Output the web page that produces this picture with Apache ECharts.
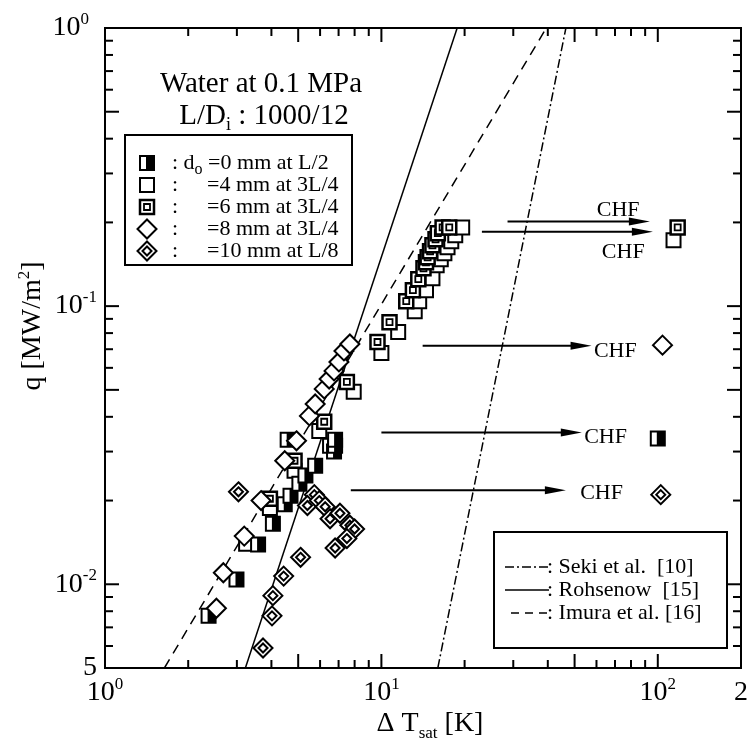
<!DOCTYPE html>
<html>
<head>
<meta charset="utf-8">
<script src="https://cdn.jsdelivr.net/npm/echarts@6/dist/echarts.min.js"></script>
<style>
  html, body { margin: 0; padding: 0; background: #fff; }
  #chart { width: 751px; height: 751px; }
</style>
</head>
<body>
<div id="chart"></div>
<script>
var FONT = "Liberation Serif";

// axis ranges and tick values
var xMin = 1, xMax = 200;
var yMin = 0.005, yMax = 1;
var xTicks = [2, 3, 4, 5, 6, 7, 8, 9, 10, 20, 30, 40, 50, 60, 70, 80, 90, 100];
var xMajorTicks = [5, 10, 50, 100];
var yTicks = [0.006, 0.007, 0.008, 0.009, 0.01, 0.02, 0.03, 0.04, 0.05, 0.06, 0.07, 0.08, 0.09,
              0.1, 0.2, 0.3, 0.4, 0.5, 0.6, 0.7, 0.8, 0.9];
var yMajorTicks = [0.01, 0.05, 0.1, 0.5];

// measured points [dT_sat K, q MW/m2]
var do0 = [[2.37, 0.0077], [2.99, 0.0104], [3.58, 0.0139], [4.05, 0.0165], [4.47, 0.0194],
           [4.69, 0.0208], [4.58, 0.0331], [5.05, 0.0230], [5.31, 0.0246], [5.76, 0.0267],
           [6.74, 0.030], [6.80, 0.0315], [6.80, 0.0331], [100, 0.0334]];
var do4 = [[3.24, 0.0140], [3.95, 0.0188], [4.85, 0.0256], [5.96, 0.0356], [6.52, 0.0315],
           [7.94, 0.0492], [10.0, 0.0678], [11.5, 0.0807], [13.2, 0.0959], [13.7, 0.1042],
           [14.5, 0.1141], [15.3, 0.126], [15.85, 0.1403], [16.4, 0.1474], [16.9, 0.1549],
           [17.35, 0.1627], [17.9, 0.171], [18.5, 0.1797], [19.6, 0.1919], [114, 0.1724]];
var do6 = [[3.95, 0.0203], [4.85, 0.0278], [6.21, 0.0384], [7.50, 0.0534], [9.68, 0.0743],
           [10.7, 0.0876], [12.3, 0.1042], [13.0, 0.1141], [13.6, 0.125], [14.2, 0.1368],
           [14.5, 0.1438], [14.7, 0.1498], [15.0, 0.1575], [15.3, 0.1654], [15.7, 0.1738],
           [16.0, 0.183], [16.65, 0.1919], [17.6, 0.1919], [118, 0.1919]];
var do8 = [[2.53, 0.0082], [2.68, 0.0110], [3.19, 0.0149], [3.67, 0.0200], [4.47, 0.0278],
           [4.93, 0.0328], [5.49, 0.0403], [5.76, 0.0445], [6.21, 0.0504], [6.47, 0.0547],
           [6.74, 0.0585], [7.02, 0.063], [7.32, 0.069], [7.69, 0.0731], [104, 0.0724]];
var do10 = [[3.04, 0.0215], [3.73, 0.0059], [4.02, 0.0077], [4.05, 0.0091], [4.43, 0.0107],
            [5.10, 0.0125], [5.72, 0.0210], [5.40, 0.0192], [5.96, 0.0200], [6.26, 0.0190],
            [6.52, 0.0172], [7.08, 0.0180], [7.69, 0.0163], [8.0, 0.0158], [7.50, 0.0146],
            [6.80, 0.0135], [102.5, 0.0210]];

// correlations (end points on the frame)
var sekiLine = [[16.0, 0.005], [46.5, 1]];
var rohsenowLine = [[3.22, 0.005], [18.8, 1]];
var imuraLine = [[1.64, 0.005], [39.5, 1]];

// CHF arrows [x start, x tip, q] and CHF label spots
var chfArrows = [[28.6, 93.6, 0.2017], [23.1, 96.0, 0.1852], [14.1, 57.6, 0.0721],
                 [10.0, 53.1, 0.0351], [7.75, 46.5, 0.0218]];
var chfLabels = [[71.9, 0.2208], [75.0, 0.1561], [70.2, 0.069], [64.7, 0.0339], [62.6, 0.0212]];

function markerShapes(kind, x, y) {
  var s = 7, d = 9.5;
  function st() { return { fill: "#fff", stroke: "#000", lineWidth: 2 }; }
  function sq(h, lw) {
    return { type: "rect", shape: { x: x - h, y: y - h, width: 2 * h, height: 2 * h },
             style: { fill: "#fff", stroke: "#000", lineWidth: lw } };
  }
  function dia(h) {
    return { type: "polygon", shape: { points: [[x, y - h], [x + h, y], [x, y + h], [x - h, y]] }, style: st() };
  }
  if (kind === "half") {
    return [sq(s, 2), { type: "rect", shape: { x: x - 1, y: y - s, width: s + 1, height: 2 * s }, style: { fill: "#000" } }];
  }
  if (kind === "open") return [sq(s, 2)];
  if (kind === "inner") return [sq(s, 2.5), sq(3, 1.8)];
  if (kind === "diamond") return [dia(d)];
  return [dia(d), dia(4.5)];
}

function markerSeries(name, kind, data) {
  return {
    name: name,
    type: "custom",
    z: 5,
    data: data,
    renderItem: function (params, api) {
      var p = api.coord([api.value(0), api.value(1)]);
      return { type: "group", children: markerShapes(kind, p[0], p[1]) };
    }
  };
}

function corrSeries(name, data, dash) {
  return {
    name: name, type: "line", data: data, symbol: "none", z: 3,
    lineStyle: { color: "#000", width: 1.5, type: dash }
  };
}

function fmtLabel(v, isY) {
  var lg = Math.log10(v);
  var e = Math.round(lg);
  if (Math.abs(lg - e) < 1e-6) {
    if (isY && e === 0) return "10{supPad|0}";
    return "10{sup|" + e + "}";
  }
  return String(Math.round(v / Math.pow(10, Math.floor(lg))));
}

var supStyle = { fontSize: 17, fontFamily: FONT, lineHeight: 16, verticalAlign: "top", color: "#000" };
var supPadStyle = { fontSize: 17, fontFamily: FONT, lineHeight: 16, verticalAlign: "top", color: "#000", padding: [0, 8, 0, 0] };

var chart = echarts.init(document.getElementById("chart"));

var option = {
  animation: false,
  backgroundColor: "#fff",
  grid: { left: 105, right: 3, top: 28, bottom: 83, show: true, borderColor: "#000", borderWidth: 2 },
  xAxis: {
    type: "log", logBase: 10, min: xMin, max: xMax,
    axisLine: { show: false }, axisTick: { show: false }, splitLine: { show: false },
    axisLabel: {
      margin: 8, color: "#000", fontFamily: FONT, fontSize: 28, lineHeight: 34,
      showMinLabel: true, showMaxLabel: true,
      formatter: function (v) { return fmtLabel(v, false); },
      rich: { sup: supStyle }
    }
  },
  yAxis: {
    type: "log", logBase: 10, min: yMin, max: yMax,
    axisLine: { show: false }, axisTick: { show: false }, splitLine: { show: false },
    axisLabel: {
      margin: 8, color: "#000", fontFamily: FONT, fontSize: 28, lineHeight: 34,
      showMinLabel: true, showMaxLabel: true,
      formatter: function (v) { return fmtLabel(v, true); },
      rich: { sup: supStyle, supPad: supPadStyle }
    }
  },
  series: [
    corrSeries("Seki et al. [10]", sekiLine, [9, 3, 2, 3]),
    corrSeries("Rohsenow [15]", rohsenowLine, "solid"),
    corrSeries("Imura et al. [16]", imuraLine, [10, 7]),
    {
      name: "x ticks", type: "custom", z: 4,
      data: xTicks.map(function (v) { return [v, yMin]; }),
      renderItem: function (params, api) {
        var v = xTicks[params.dataIndex];
        var len = xMajorTicks.indexOf(v) >= 0 ? 14 : 8;
        var b = api.coord([v, yMin]), t = api.coord([v, yMax]);
        return { type: "group", children: [
          { type: "line", shape: { x1: b[0], y1: b[1], x2: b[0], y2: b[1] - len }, style: { stroke: "#000", lineWidth: 2 } },
          { type: "line", shape: { x1: t[0], y1: t[1], x2: t[0], y2: t[1] + len }, style: { stroke: "#000", lineWidth: 2 } }
        ] };
      }
    },
    {
      name: "y ticks", type: "custom", z: 4,
      data: yTicks.map(function (v) { return [xMin, v]; }),
      renderItem: function (params, api) {
        var v = yTicks[params.dataIndex];
        var len = yMajorTicks.indexOf(v) >= 0 ? 14 : 8;
        var l = api.coord([xMin, v]), r = api.coord([xMax, v]);
        return { type: "group", children: [
          { type: "line", shape: { x1: l[0], y1: l[1], x2: l[0] + len, y2: l[1] }, style: { stroke: "#000", lineWidth: 2 } },
          { type: "line", shape: { x1: r[0], y1: r[1], x2: r[0] - len, y2: r[1] }, style: { stroke: "#000", lineWidth: 2 } }
        ] };
      }
    },
    {
      name: "CHF arrows", type: "custom", z: 4,
      encode: { x: [0, 1], y: 2 },
      data: chfArrows,
      renderItem: function (params, api) {
        var a = api.coord([api.value(0), api.value(2)]);
        var b = api.coord([api.value(1), api.value(2)]);
        return { type: "group", children: [
          { type: "line", shape: { x1: a[0], y1: a[1], x2: b[0] - 12, y2: b[1] }, style: { stroke: "#000", lineWidth: 2 } },
          { type: "polygon", shape: { points: [[b[0], b[1]], [b[0] - 21, b[1] - 4], [b[0] - 21, b[1] + 4]] }, style: { fill: "#000" } }
        ] };
      }
    },
    {
      name: "CHF labels", type: "custom", z: 4,
      data: chfLabels,
      renderItem: function (params, api) {
        var p = api.coord([api.value(0), api.value(1)]);
        return { type: "text", x: p[0], y: p[1], style: {
          text: "CHF", fontSize: 22, fontFamily: FONT, fill: "#000",
          align: "center", verticalAlign: "middle", textAlign: "center", textVerticalAlign: "middle" } };
      }
    },
    markerSeries("4 mm", "open", do4),
    markerSeries("6 mm", "inner", do6),
    markerSeries("0 mm", "half", do0),
    markerSeries("8 mm", "diamond", do8),
    markerSeries("10 mm", "double", do10)
  ]
};

// annotation boxes and axis names
function txt(x, y, text, size, align, rich, rot) {
  return {
    type: "text", x: x, y: y, rotation: rot || 0, z: 10,
    style: { text: text, fontSize: size, fontFamily: FONT, fill: "#000",
             align: align, textAlign: align, verticalAlign: "middle", textVerticalAlign: "middle",
             rich: rich || {} }
  };
}
var subRich = { sub: { fontSize: 16, fontFamily: FONT, lineHeight: 30, verticalAlign: "bottom" } };

var legendRows = [
  ["half", ": d{sub|o} =0 mm at L/2"],
  ["open", "=4 mm at 3L/4"],
  ["inner", "=6 mm at 3L/4"],
  ["diamond", "=8 mm at 3L/4"],
  ["double", "=10 mm at L/8"]
];
var graphics = [
  { type: "rect", z: 9, shape: { x: 125, y: 135, width: 227, height: 130 }, style: { fill: "#fff", stroke: "#000", lineWidth: 2 } },
  txt(261, 84, "Water at 0.1 MPa", 29, "center"),
  txt(264, 116, "L/D{sub|i} : 1000/12", 29, "center", { sub: { fontSize: 18, fontFamily: FONT, lineHeight: 36, verticalAlign: "bottom" } }),
  txt(33, 326, "q [MW/m{sup|2}]", 28, "center", { sup: { fontSize: 17, fontFamily: FONT, lineHeight: 34, verticalAlign: "top" } }, Math.PI / 2),
  txt(430, 724, "Δ T{sub|sat} [K]", 28, "center", { sub: { fontSize: 17, fontFamily: FONT, lineHeight: 36, verticalAlign: "bottom" } }),
  { type: "rect", z: 9, shape: { x: 494, y: 532, width: 233, height: 116 }, style: { fill: "#fff", stroke: "#000", lineWidth: 2 } },
  { type: "line", z: 10, shape: { x1: 505, y1: 567, x2: 549, y2: 567 }, style: { stroke: "#000", lineWidth: 1.5, lineDash: [9, 3, 2, 3] } },
  { type: "line", z: 10, shape: { x1: 505, y1: 590, x2: 549, y2: 590 }, style: { stroke: "#000", lineWidth: 1.5 } },
  { type: "line", z: 10, shape: { x1: 511, y1: 613, x2: 549, y2: 613 }, style: { stroke: "#000", lineWidth: 1.5, lineDash: [8, 6] } },
  txt(547, 567, ": Seki et al.  [10]", 22, "left"),
  txt(547, 590, ": Rohsenow  [15]", 22, "left"),
  txt(547, 613, ": Imura et al. [16]", 22, "left")
];
legendRows.forEach(function (row, i) {
  var y = 163 + i * 22;
  markerShapes(row[0], 147, y).forEach(function (el) {
    el.z = 10;
    graphics.push(el);
  });
  if (i === 0) {
    graphics.push(txt(172, y, row[1], 22, "left", subRich));
  } else {
    graphics.push(txt(172, y, ":", 22, "left"));
    graphics.push(txt(207, y, row[1], 22, "left"));
  }
});
option.graphic = { elements: graphics };

chart.setOption(option);
</script>
</body>
</html>
